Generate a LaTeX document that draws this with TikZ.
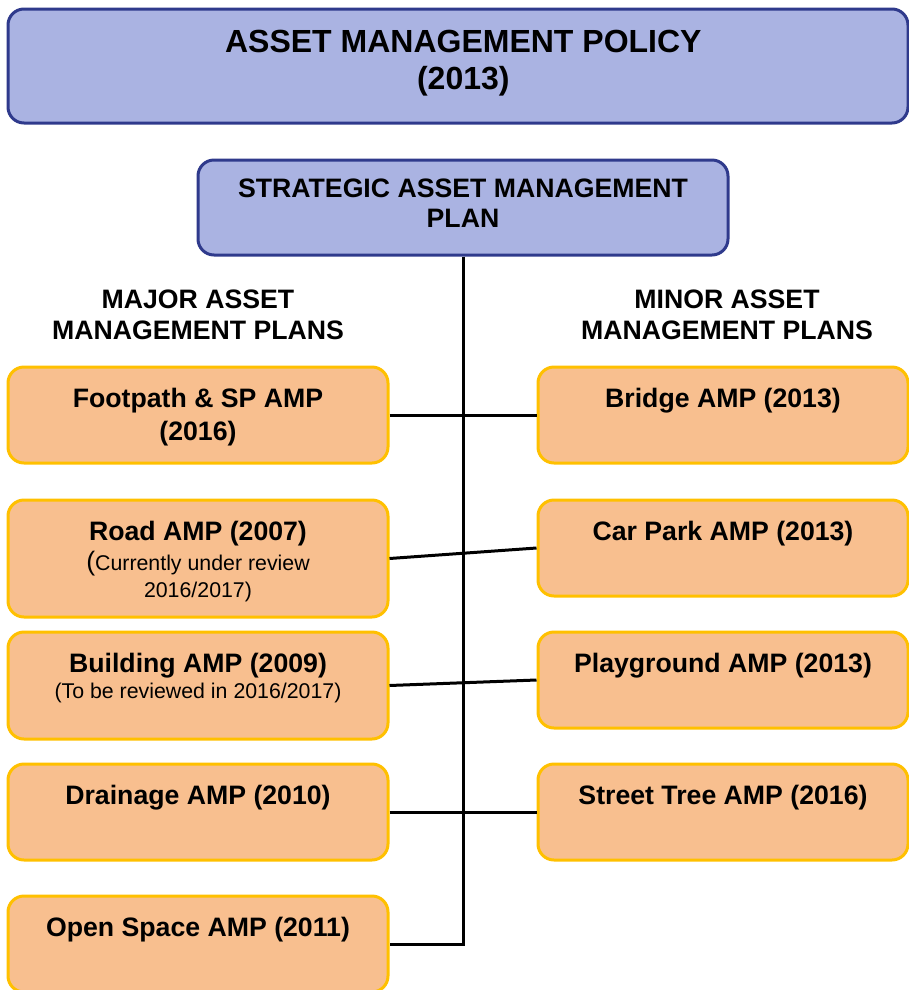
\documentclass[tikz,border=0pt]{standalone}
\usepackage{fontspec}
\setmainfont{Liberation Sans}
\usetikzlibrary{positioning}
\definecolor{policyfill}{HTML}{AAB3E2}
\definecolor{policyline}{HTML}{2F3A8C}
\definecolor{ampfill}{HTML}{F8BF8F}
\definecolor{ampline}{HTML}{FFC000}
\tikzset{
  bluebox/.style={draw=policyline, fill=policyfill, line width=2.25pt, rounded corners=12pt, inner sep=0pt},
  ampbox/.style={draw=ampline, fill=ampfill, line width=2.25pt, rounded corners=12pt, inner sep=0pt,
                 minimum width=285pt, minimum height=72pt},
  minorbox/.style={ampbox, minimum width=277.5pt},
  amptext/.style={font=\bfseries\fontsize{20}{24.75}\selectfont, align=center, inner sep=0pt},
  notetext/.style={font=\fontsize{16}{20.25}\selectfont, align=center, inner sep=0pt},
  headtext/.style={font=\bfseries\fontsize{20}{23.25}\selectfont, align=center, inner sep=0pt},
  link/.style={line width=2.25pt, black}
}
\begin{document}
\begin{tikzpicture}[x=0.75pt, y=-0.75pt]
  \useasboundingbox (0,0) rectangle (909,990);
  \clip (0,0) rectangle (909,990);

  % policy and strategic plan
  \node[bluebox, minimum width=675pt, minimum height=85.5pt] (policy) at (458,66) {};
  \node[bluebox, minimum width=397.5pt, minimum height=71.25pt] (sam) at (463,207.5) {};
  \node[font=\bfseries\fontsize{24}{27.75}\selectfont, align=center, inner sep=0pt,
        below=17pt of policy.north, xshift=4pt] (policytext) {ASSET MANAGEMENT POLICY\\(2013)};
  \node[font=\bfseries\fontsize{20}{22.5}\selectfont, align=center, inner sep=0pt,
        below=15.3pt of sam.north] (samtext) {STRATEGIC ASSET MANAGEMENT\\PLAN};

  % major plans
  \node[ampbox] (footpath) at (198,415) {};
  \node[ampbox, minimum height=87.75pt] (road) at (198,558.5) {};
  \node[ampbox, minimum height=80.25pt] (building) at (198,685.5) {};
  \node[ampbox] (drainage) at (198,812) {};
  \node[ampbox] (openspace) at (198,944) {};

  % minor plans
  \node[minorbox] (bridge) at (723,415) {};
  \node[minorbox] (carpark) at (723,548) {};
  \node[minorbox] (playground) at (723,680) {};
  \node[minorbox] (streettree) at (723,812) {};

  % headings
  \node[headtext, above=19pt of footpath] (majorhead) {MAJOR ASSET\\MANAGEMENT PLANS};
  \node[headtext, above=19pt of bridge, xshift=3pt] (minorhead) {MINOR ASSET\\MANAGEMENT PLANS};

  % box texts
  \node[amptext, below=16.5pt of footpath.north] (footpathtext) {Footpath \& SP AMP\\(2016)};
  \node[amptext, below=16.5pt of road.north] (roadtext) {Road AMP (2007)};
  \node[notetext, below=4pt of roadtext] (roadnote) {{\fontsize{20}{20}\selectfont(}Currently under review\\2016/2017)};
  \node[amptext, below=16.5pt of building.north] (buildingtext) {Building AMP (2009)};
  \node[notetext, below=3.5pt of buildingtext] (buildingnote) {(To be reviewed in 2016/2017)};
  \node[amptext, below=16.5pt of drainage.north] (drainagetext) {Drainage AMP (2010)};
  \node[amptext, below=16.5pt of openspace.north] (openspacetext) {Open Space AMP (2011)};
  \node[amptext, below=16.5pt of bridge.north] (bridgetext) {Bridge AMP (2013)};
  \node[amptext, below=16.5pt of carpark.north] (carparktext) {Car Park AMP (2013)};
  \node[amptext, below=16.5pt of playground.north] (playgroundtext) {Playground AMP (2013)};
  \node[amptext, below=16.5pt of streettree.north] (streettreetext) {Street Tree AMP (2016)};

  % connectors
  \draw[link] (sam.south) -- (sam.south |- openspace.east) -- (openspace.east);
  \draw[link] (footpath.east) -- (bridge.west);
  \draw[link] (road.east) -- (carpark.west);
  \draw[link] (building.east) -- (playground.west);
  \draw[link] (drainage.east) -- (streettree.west);
\end{tikzpicture}
\end{document}
